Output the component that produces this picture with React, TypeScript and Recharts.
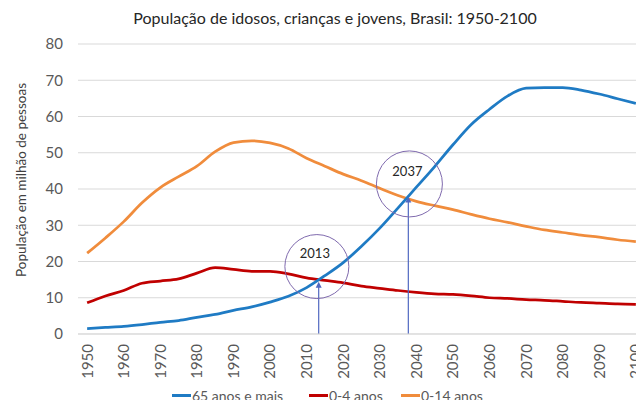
import React from 'react';
import { LineChart, Line, XAxis, YAxis, CartesianGrid, ReferenceDot, ReferenceLine, Legend } from 'recharts';

const years = [1950,1955,1960,1965,1970,1975,1980,1985,1990,1995,2000,2005,2010,2015,2020,2025,2030,2035,2040,2045,2050,2055,2060,2065,2070,2075,2080,2085,2090,2095,2100];
const idosos65 = [1.5,1.8,2.1,2.6,3.2,3.7,4.6,5.4,6.5,7.5,8.8,10.4,12.8,16.1,19.7,24.2,29.2,34.8,40.5,46.2,52.2,57.8,62.0,65.7,67.8,68.0,68.0,67.3,66.2,64.9,63.6];
const criancas04 = [8.6,10.5,12.0,14.0,14.6,15.2,16.8,18.3,17.8,17.3,17.3,16.6,15.5,14.8,14.1,13.2,12.6,12.0,11.5,11.1,10.9,10.5,10.0,9.8,9.5,9.3,9.0,8.7,8.5,8.3,8.2];
const jovens014 = [22.3,26.5,31.0,36.2,40.4,43.4,46.3,50.3,52.8,53.3,52.7,51.2,48.5,46.3,44.1,42.3,40.2,38.2,36.6,35.4,34.3,33.0,31.8,30.8,29.7,28.7,28.0,27.3,26.7,26.0,25.5];
const xTicks = [1950,1960,1970,1980,1990,2000,2010,2020,2030,2040,2050,2060,2070,2080,2090,2100];
const yTicks = [0,10,20,30,40,50,60,70,80];

const seriesNames = ['65 anos e mais', '0-4 anos', '0-14 anos'];
const colors = ['#1F7BC4', '#C00000', '#F08C3C'];

const data = years.map((y, i) => ({ year: y, a: idosos65[i], b: criancas04[i], c: jovens014[i] }));

const FONT = 'Lato, "Open Sans", sans-serif';

const XTick = (props: any) => {
  const { x, y, payload } = props;
  return (
    <text x={x} y={y} transform={`rotate(-90 ${x} ${y})`} textAnchor="end" dy="0.36em" fill="#595959" fontSize={15} fontFamily={FONT}>
      {payload.value}
    </text>
  );
};

const YTick = (props: any) => {
  const { x, y, payload } = props;
  return (
    <text x={x} y={y} textAnchor="end" dy="0.36em" fill="#595959" fontSize={15} fontFamily={FONT}>
      {payload.value}
    </text>
  );
};

const Arrow = (props: any) => {
  const { x1, y1, x2, y2 } = props;
  const top = Math.min(y1, y2);
  const bottom = Math.max(y1, y2);
  const x = x1;
  return (
    <g>
      <line x1={x} y1={bottom} x2={x} y2={top + 4} stroke="#5068C0" strokeWidth={1.2} />
      <polygon points={`${x - 3},${top + 6} ${x + 3},${top + 6} ${x},${top}`} fill="#5068C0" />
    </g>
  );
};

const circleLabel = (text: string) => (props: any) => {
  const vb = props.viewBox || {};
  const cx = vb.x + vb.width / 2;
  const cy = vb.y + vb.height / 2;
  return (
    <text x={cx - 2} y={cy - 13} textAnchor="middle" dy="0.36em" fill="#262626" fontSize={13} fontFamily={FONT}>
      {text}
    </text>
  );
};

const LegendContent = () => {
  const lefts = [172, 309, 401];
  return (
    <div style={{ position: 'relative', width: 636, height: 20 }}>
      {seriesNames.map((n, i) => (
        <div key={n} style={{ position: 'absolute', left: lefts[i], top: 0, display: 'flex', alignItems: 'center', fontFamily: FONT, fontSize: 14, color: '#595959', whiteSpace: 'nowrap' }}>
          <span style={{ display: 'inline-block', width: 19, height: 3, background: colors[i], marginRight: 1 }} />
          <span>{n}</span>
        </div>
      ))}
    </div>
  );
};

const YLabel = () => (
  <text x={21} y={180} transform="rotate(-90 21 180)" textAnchor="middle" dy="0.36em" fill="#404040" fontSize={13.5} fontFamily={FONT}>
    População em milhão de pessoas
  </text>
);

export default function App() {
  return (
    <div style={{ position: 'absolute', left: 0, top: 0, width: 636, height: 400, overflow: 'hidden', background: '#fff' }}>
      <div style={{ position: 'absolute', left: 0, top: 8, width: 670, textAlign: 'center', fontFamily: FONT, fontSize: 16, color: '#262626', whiteSpace: 'nowrap' }}>
        <span style={{ position: 'absolute', left: 335, transform: 'translateX(-50%)' }}>População de idosos, crianças e jovens, Brasil: 1950-2100</span>
      </div>
      <LineChart width={670} height={400} data={data} margin={{ top: 44, right: 25, bottom: 16, left: 8 }}>
        <CartesianGrid vertical={false} stroke="#D9D9D9" strokeWidth={1} />
        <XAxis
          dataKey="year"
          type="number"
          domain={[1947.5, 2102.5]}
          ticks={xTicks}
          interval={0}
          tick={<XTick />}
          tickLine={false}
          tickSize={0}
          tickMargin={10}
          axisLine={{ stroke: '#D9D9D9' }}
          height={50}
          allowDataOverflow
        />
        <YAxis
          domain={[0, 80]}
          ticks={yTicks}
          interval={0}
          tick={<YTick />}
          tickLine={false}
          tickSize={0}
          tickMargin={15}
          axisLine={false}
          width={70}
          label={<YLabel />}
        />
        <Line type="monotone" dataKey="c" name={seriesNames[2]} stroke={colors[2]} strokeWidth={2.75} dot={false} isAnimationActive={false} />
        <Line type="monotone" dataKey="b" name={seriesNames[1]} stroke={colors[1]} strokeWidth={2.75} dot={false} isAnimationActive={false} />
        <Line type="monotone" dataKey="a" name={seriesNames[0]} stroke={colors[0]} strokeWidth={2.75} dot={false} isAnimationActive={false} />
        <ReferenceLine segment={[{ x: 2013.3, y: 0 }, { x: 2013.3, y: 14.4 }]} shape={<Arrow />} />
        <ReferenceLine segment={[{ x: 2037.8, y: 0 }, { x: 2037.8, y: 37.9 }]} shape={<Arrow />} />
        <ReferenceDot x={2012.8} y={18.6} r={32} fill="none" stroke="#7F6AAE" strokeWidth={1} label={circleLabel('2013')} />
        <ReferenceDot x={2038.1} y={41.4} r={33} fill="none" stroke="#7F6AAE" strokeWidth={1} label={circleLabel('2037')} />
        <Legend layout="horizontal" verticalAlign="middle" content={<LegendContent />} wrapperStyle={{ position: 'absolute', left: 0, top: 387, width: 636, height: 20 }} />
      </LineChart>
    </div>
  );
}
